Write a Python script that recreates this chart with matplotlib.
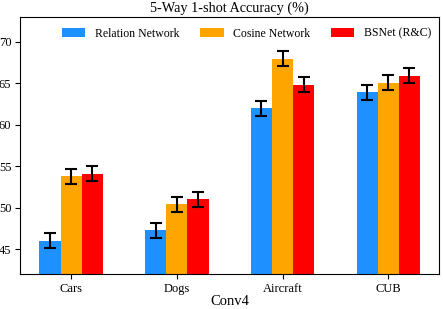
import matplotlib
matplotlib.use("Agg")
import matplotlib.pyplot as plt
import numpy as np

plt.rcParams['font.family'] = ['Liberation Serif', 'DejaVu Serif']

datasets = ["Cars", "Dogs", "Aircraft", "CUB"]
methods = ["Relation Network", "Cosine Network", "BSNet (R&C)"]
relation = [46.0, 47.3, 62.0, 63.95]
cosine = [53.8, 50.4, 67.95, 65.05]
bsnet = [54.1, 51.0, 64.85, 65.9]
relation_err = [0.9, 0.9, 0.9, 0.9]
cosine_err = [0.9, 0.9, 0.9, 0.9]
bsnet_err = [0.9, 0.9, 0.9, 0.9]
colors = ["#1E90FF", "#FFA500", "#FF0000"]

fig, ax = plt.subplots(figsize=(4.43, 3.09), dpi=100)
fig.subplots_adjust(left=0.046, right=0.991, top=0.945, bottom=0.113)

x = np.arange(len(datasets))
w = 0.2
series = [relation, cosine, bsnet]
errs = [relation_err, cosine_err, bsnet_err]
for i, (vals, e, c, m) in enumerate(zip(series, errs, colors, methods)):
    ax.bar(x + (i - 1) * w, vals, w, yerr=e, color=c, label=m,
           error_kw=dict(ecolor='black', elinewidth=1.5, capsize=4, capthick=1.5))

ax.set_ylim(42, 73)
ax.set_yticks([45, 50, 55, 60, 65, 70])
ax.set_xticks(x)
ax.set_xticklabels(datasets)
ax.tick_params(labelsize=9, pad=3)
ax.set_xlabel("Conv4", fontsize=10.5, labelpad=0)
ax.set_title("5-Way 1-shot Accuracy (%)", fontsize=10.3, pad=4)
ax.legend(loc='upper center', ncol=3, frameon=False, fontsize=8.5,
          handlelength=2.0, columnspacing=1.75, bbox_to_anchor=(0.54, 1.0))

fig.savefig("out.png", dpi=100)
